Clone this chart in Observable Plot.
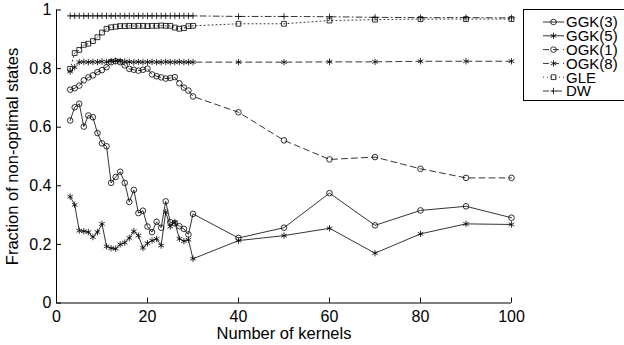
<!DOCTYPE html>
<html><head><meta charset="utf-8">
<script src="https://cdn.jsdelivr.net/npm/d3@7"></script>
<script src="https://cdn.jsdelivr.net/npm/@observablehq/plot@0.6"></script>
<style>
html,body{margin:0;padding:0;background:#fff;overflow:hidden}
#wrap{position:relative;width:624px;height:345px;overflow:hidden}
</style></head><body><div id="wrap"></div>
<script>
// ---- data ----
const kernels = [3,4,5,6,7,8,9,10,11,12,13,14,15,16,17,18,19,20,21,22,23,24,25,26,27,28,29,30,40,50,60,70,80,90,100];
const ggk3 = [0.623,0.668,0.680,0.602,0.640,0.634,0.580,0.545,0.535,0.410,0.430,0.448,0.410,0.345,0.386,0.307,0.315,0.261,0.242,0.277,0.257,0.347,0.276,0.272,0.262,0.253,0.234,0.304,
              0.222,0.257,0.375,0.265,0.316,0.330,0.291];
const ggk5 = [0.363,0.335,0.247,0.245,0.242,0.225,0.242,0.270,0.193,0.187,0.185,0.200,0.206,0.222,0.245,0.230,0.188,0.204,0.213,0.219,0.196,0.310,0.261,0.276,0.219,0.211,0.216,0.151,
              0.213,0.230,0.255,0.170,0.236,0.270,0.268];
const ogk1 = [0.728,0.733,0.742,0.760,0.770,0.777,0.788,0.795,0.805,0.822,0.825,0.822,0.811,0.799,0.796,0.793,0.796,0.800,0.780,0.774,0.770,0.766,0.768,0.771,0.750,0.735,0.725,0.705,
              0.651,0.555,0.490,0.498,0.458,0.427,0.427];
const ogk8 = [0.790,0.805,0.822,0.823,0.822,0.823,0.822,0.824,0.823,0.826,0.827,0.826,0.824,0.823,0.822,0.823,0.822,0.822,0.823,0.822,0.822,0.823,0.822,0.822,0.823,0.822,0.822,0.822,
              0.822,0.822,0.823,0.823,0.825,0.825,0.825];
const gle  = [0.799,0.853,0.864,0.881,0.885,0.894,0.907,0.923,0.936,0.941,0.943,0.945,0.945,0.946,0.945,0.946,0.946,0.945,0.946,0.946,0.947,0.946,0.946,0.940,0.936,0.938,0.945,0.946,
              0.953,0.953,0.964,0.967,0.969,0.969,0.969];
const dw   = [0.980,0.980,0.980,0.980,0.980,0.980,0.980,0.980,0.980,0.980,0.980,0.980,0.980,0.980,0.980,0.980,0.980,0.980,0.980,0.980,0.980,0.980,0.980,0.980,0.980,0.980,0.980,0.980,
              0.978,0.978,0.977,0.975,0.974,0.974,0.973];
const seriesNames = ["GGK(3)","GGK(5)","OGK(1)","OGK(8)","GLE","DW"];
const seriesValues = [ggk3, ggk5, ogk1, ogk8, gle, dw];
const xTicks = [0,20,40,60,80,100];
const yTicks = [0,0.2,0.4,0.6,0.8,1];
const yTickLabels = ["0","0.2","0.4","0.6","0.8","1"];
const xLabel = "Number of kernels";
const yLabel = "Fraction of non-optimal states";

// ---- styles ----
const styles = [
  {dash: null,      symbol: "circle",   r: 2.8},
  {dash: null,      symbol: "asterisk", r: 3},
  {dash: "6,4",     symbol: "circle",   r: 2.8},
  {dash: "6,4",     symbol: "asterisk", r: 3},
  {dash: "1,3",     symbol: "square",   r: 2.7},
  {dash: "6,3,1,3", symbol: "plus",     r: 2.2}
];
const W = 624, H = 345, mL = 56, mR = 113, mT = 9.5, mB = 42.5;
const frameW = W - mL - mR, frameH = H - mT - mB;
const font = "'Liberation Sans', Arial, Helvetica, sans-serif";
const ink = "#000";

const marks = [];
seriesNames.forEach((name, s) => {
  const rows = kernels.map((k, i) => ({series: name, x: k, y: seriesValues[s][i]}));
  const st = styles[s];
  marks.push(Plot.line(rows, {x: "x", y: "y", stroke: ink, strokeWidth: 0.8, strokeDasharray: st.dash}));
  marks.push(Plot.dot(rows, {x: "x", y: "y", symbol: () => st.symbol, r: st.r, stroke: ink, fill: "none", strokeWidth: 0.8}));
});

const chart = Plot.plot({
  width: W, height: H,
  marginLeft: mL, marginRight: mR, marginTop: mT, marginBottom: mB,
  x: {domain: [0, 100]},
  y: {domain: [0, 1]},
  style: {fontFamily: font, color: ink, background: "white", overflow: "visible"},
  marks: [
    ...marks,
    Plot.ruleX([0], {stroke: ink, strokeWidth: 1}),
    Plot.ruleY([0], {stroke: ink, strokeWidth: 1}),
    Plot.tickX(xTicks, {x: d => d, insetTop: frameH - 5, stroke: ink, strokeWidth: 1}),
    Plot.tickY(yTicks, {y: d => d, insetRight: frameW - 5, stroke: ink, strokeWidth: 1}),
    Plot.axisX({ticks: xTicks, tickSize: 0, tickPadding: 8, tickFormat: d => String(d), fontSize: 16, label: null}),
    Plot.axisY({ticks: yTicks, tickSize: 0, tickPadding: 5, tickFormat: d => yTickLabels[yTicks.indexOf(d)], fontSize: 16, label: null}),
    Plot.text([xLabel], {text: d => d, frameAnchor: "bottom", dy: 24, lineAnchor: "top", textAnchor: "middle", fontSize: 16.5, fill: ink}),
    Plot.text([yLabel], {text: d => d, frameAnchor: "left", dx: -50, rotate: -90, lineAnchor: "top", textAnchor: "middle", fontSize: 16.5, fill: ink})
  ]
});
const wrap = document.getElementById("wrap");
wrap.appendChild(chart);

// ---- legend (overlay) ----
const symTypes = {circle: d3.symbolCircle, asterisk: d3.symbolAsterisk, square: d3.symbolSquare, plus: d3.symbolPlus};
const lg = d3.create("svg").attr("width", W).attr("height", H)
  .style("position", "absolute").style("left", "0px").style("top", "0px");
lg.append("rect").attr("x", 523.5).attr("y", 9.5).attr("width", 130).attr("height", 91)
  .attr("fill", "white").attr("stroke", ink).attr("stroke-width", 1);
seriesNames.forEach((name, i) => {
  const cy = 22 + i * 13.8;
  const st = styles[i];
  const g = lg.append("g");
  g.append("line").attr("x1", 543).attr("x2", 564).attr("y1", cy).attr("y2", cy)
    .attr("stroke", ink).attr("stroke-width", 0.8).attr("stroke-dasharray", st.dash);
  g.append("path").attr("transform", `translate(553.5,${cy})`)
    .attr("d", d3.symbol().type(symTypes[st.symbol]).size(Math.PI * st.r * st.r)())
    .attr("fill", "none").attr("stroke", ink).attr("stroke-width", 0.8);
  g.append("text").attr("x", 566).attr("y", cy).attr("dy", "0.36em")
    .attr("font-family", font).attr("font-size", 15).attr("fill", ink).text(name);
});
wrap.appendChild(lg.node());
</script>
</body></html>
